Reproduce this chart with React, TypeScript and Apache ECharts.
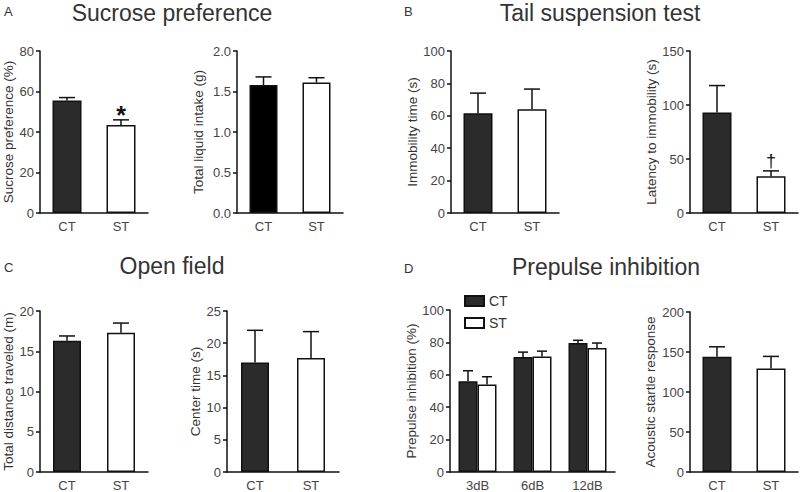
import React, { useEffect, useRef } from "react";
import * as echarts from "echarts";

const groups = ["CT", "ST"];
const sucroseMean = [55.5, 43.5];
const sucroseUpper = [57, 46];
const intakeMean = [1.58, 1.61];
const intakeUpper = [1.68, 1.67];
const immobMean = [61.5, 64];
const immobUpper = [74, 76.5];
const latencyMean = [93, 34];
const latencyUpper = [118, 39];
const distanceMean = [16.3, 17.3];
const distanceUpper = [16.9, 18.5];
const centerMean = [17, 17.7];
const centerUpper = [22, 21.8];
const ppiLevels = ["3dB", "6dB", "12dB"];
const ppiCT = [56, 71, 79.6];
const ppiCTUpper = [62.5, 74, 81.3];
const ppiST = [54, 71.3, 76.5];
const ppiSTUpper = [58.8, 74.6, 79.6];
const startleMean = [144, 129.5];
const startleUpper = [156.5, 144.5];

const sucroseMarks = ["", "*"];
const latencyMarks = ["", "†"];

const FONT = "Liberation Sans, Arial, Helvetica, sans-serif";
const DARK = "#2b2b2b";
const LINE = "#111";
const NAME_SIZE = 13.5;
const TICK_SIZE = 13;

type Panel = {
  left: number;
  top: number;
  width: number;
  height: number;
  max: number;
  interval: number;
  name: string;
  nameGap: number;
  mean: number[];
  upper: number[];
  fills: string[];
  barWidth: number;
  cap: number;
  marks?: string[];
  markSize?: number;
  markShift?: number;
  markBold?: boolean;
  decimals?: number;
};

const panels: Panel[] = [
  { left: 40, top: 51, width: 108, height: 162, max: 80, interval: 20, name: "Sucrose preference (%)", nameGap: 23, mean: sucroseMean, upper: sucroseUpper, fills: [DARK, "#fff"], barWidth: 29, cap: 8, marks: sucroseMarks, markSize: 25, markShift: 8, markBold: true },
  { left: 237, top: 51, width: 106, height: 162, max: 2, interval: 0.5, name: "Total liquid intake (g)", nameGap: 32, mean: intakeMean, upper: intakeUpper, fills: ["#000", "#fff"], barWidth: 28, cap: 8, decimals: 1 },
  { left: 451, top: 51, width: 108, height: 162, max: 100, interval: 20, name: "Immobility time (s)", nameGap: 31, mean: immobMean, upper: immobUpper, fills: [DARK, "#fff"], barWidth: 29, cap: 8 },
  { left: 690, top: 51, width: 108, height: 162, max: 150, interval: 50, name: "Latency to immobility (s)", nameGap: 32, mean: latencyMean, upper: latencyUpper, fills: [DARK, "#fff"], barWidth: 29, cap: 8, marks: latencyMarks, markSize: 18, markShift: -1 },
  { left: 40, top: 311, width: 108, height: 162, max: 20, interval: 5, name: "Total distance traveled (m)", nameGap: 23, mean: distanceMean, upper: distanceUpper, fills: [DARK, "#fff"], barWidth: 28, cap: 8 },
  { left: 227, top: 311, width: 112, height: 162, max: 25, interval: 5, name: "Center time (s)", nameGap: 22, mean: centerMean, upper: centerUpper, fills: [DARK, "#fff"], barWidth: 28, cap: 8 },
  { left: 690, top: 312, width: 108, height: 161, max: 200, interval: 50, name: "Acoustic startle response", nameGap: 33, mean: startleMean, upper: startleUpper, fills: [DARK, "#fff"], barWidth: 29, cap: 8 },
];

const ppiPanel = { left: 450, top: 310, width: 165, height: 163, max: 100, interval: 20, name: "Prepulse inhibition (%)", nameGap: 31, barWidth: 19, cap: 5 };

const axisLine = { show: true, lineStyle: { color: LINE, width: 1.5 } };

function yAxisOf(gridIndex: number, p: { max: number; interval: number; name: string; nameGap: number; decimals?: number }) {
  return {
    type: "value",
    gridIndex,
    min: 0,
    max: p.max,
    interval: p.interval,
    name: p.name,
    nameLocation: "middle",
    nameGap: p.nameGap,
    nameTextStyle: { fontSize: NAME_SIZE, color: "#333", fontFamily: FONT },
    axisLine,
    axisTick: { show: true, length: 4, lineStyle: { color: LINE, width: 1.5 } },
    axisLabel: {
      fontSize: TICK_SIZE,
      color: "#444",
      fontFamily: FONT,
      margin: 6,
      formatter: (v: number) => (p.decimals ? v.toFixed(p.decimals) : String(v)),
    },
    splitLine: { show: false },
  };
}

function xAxisOf(gridIndex: number, cats: string[]) {
  return {
    type: "category",
    gridIndex,
    data: cats,
    axisLine,
    axisTick: { show: false },
    axisLabel: { fontSize: TICK_SIZE, color: "#444", fontFamily: FONT, margin: 7 },
  };
}

function errorSeries(gridIndex: number, mean: number[], upper: number[], cap: number, offset: number, marks?: string[], markSize?: number, markShift?: number, markBold?: boolean) {
  return {
    type: "custom",
    xAxisIndex: gridIndex,
    yAxisIndex: gridIndex,
    z: 5,
    silent: true,
    data: mean.map((m, i) => [i, m, upper[i]]),
    renderItem: (params: any, api: any) => {
      const i = api.value(0);
      const p0 = api.coord([i, api.value(1)]);
      const p1 = api.coord([i, api.value(2)]);
      const x = p0[0] + offset;
      const children: any[] = [
        { type: "line", shape: { x1: x, y1: p0[1], x2: x, y2: p1[1] }, style: { stroke: LINE, lineWidth: 1.5 } },
        { type: "line", shape: { x1: x - cap, y1: p1[1], x2: x + cap, y2: p1[1] }, style: { stroke: LINE, lineWidth: 1.5 } },
      ];
      const mk = marks ? marks[params.dataIndex] : "";
      if (mk) {
        children.push({
          type: "text",
          x,
          y: p1[1] + (markShift || 0),
          style: { text: mk, fontSize: markSize || 16, fontWeight: markBold ? "bold" : "normal", fontFamily: FONT, fill: "#111", align: "center", verticalAlign: "bottom" },
        });
      }
      return { type: "group", children };
    },
  };
}

function buildOption() {
  const grid: any[] = [];
  const xAxis: any[] = [];
  const yAxis: any[] = [];
  const series: any[] = [];

  panels.forEach((p, gi) => {
    grid.push({ left: p.left, top: p.top, width: p.width, height: p.height, containLabel: false });
    xAxis.push(xAxisOf(gi, groups));
    yAxis.push(yAxisOf(gi, p));
    series.push({
      type: "bar",
      name: "panel" + gi,
      xAxisIndex: gi,
      yAxisIndex: gi,
      barWidth: p.barWidth,
      data: p.mean.map((v, i) => ({ value: v, itemStyle: { color: p.fills[i], borderColor: LINE, borderWidth: 1.5 } })),
    });
    series.push(errorSeries(gi, p.mean, p.upper, p.cap, 0, p.marks, p.markSize, p.markShift, p.markBold));
  });

  const gi = panels.length;
  grid.push({ left: ppiPanel.left, top: ppiPanel.top, width: ppiPanel.width, height: ppiPanel.height });
  xAxis.push(xAxisOf(gi, ppiLevels));
  yAxis.push(yAxisOf(gi, ppiPanel));
  series.push({
    type: "bar",
    name: "CT",
    xAxisIndex: gi,
    yAxisIndex: gi,
    barWidth: ppiPanel.barWidth,
    barGap: "0%",
    itemStyle: { color: DARK, borderColor: LINE, borderWidth: 1.5 },
    data: ppiCT,
  });
  series.push({
    type: "bar",
    name: "ST",
    xAxisIndex: gi,
    yAxisIndex: gi,
    barWidth: ppiPanel.barWidth,
    barGap: "0%",
    itemStyle: { color: "#fff", borderColor: LINE, borderWidth: 1.5 },
    data: ppiST,
  });
  series.push(errorSeries(gi, ppiCT, ppiCTUpper, ppiPanel.cap, -ppiPanel.barWidth / 2));
  series.push(errorSeries(gi, ppiST, ppiSTUpper, ppiPanel.cap, ppiPanel.barWidth / 2));

  const titleStyle = { fontSize: 23, fontFamily: FONT, fill: "#333", align: "center", verticalAlign: "middle" };
  const letterStyle = { fontSize: 13, fontFamily: FONT, fill: "#333", align: "left", verticalAlign: "middle" };

  return {
    animation: false,
    backgroundColor: "#fff",
    legend: {
      data: ["CT", "ST"],
      orient: "vertical",
      left: 459,
      top: 289,
      icon: "rect",
      itemWidth: 19,
      itemHeight: 10,
      itemGap: 8,
      selectedMode: false,
      textStyle: { fontSize: 14, color: "#333", fontFamily: FONT },
    },
    grid,
    xAxis,
    yAxis,
    series,
    graphic: [
      { type: "text", left: 4, top: 5, style: { ...letterStyle, text: "A" } },
      { type: "text", x: 172, y: 13, style: { ...titleStyle, text: "Sucrose preference" } },
      { type: "text", left: 404, top: 5, style: { ...letterStyle, text: "B" } },
      { type: "text", x: 600, y: 13, style: { ...titleStyle, text: "Tail suspension test" } },
      { type: "text", left: 4, top: 261, style: { ...letterStyle, text: "C" } },
      { type: "text", x: 172, y: 266, style: { ...titleStyle, text: "Open field" } },
      { type: "text", left: 404, top: 262, style: { ...letterStyle, text: "D" } },
      { type: "text", x: 606, y: 267, style: { ...titleStyle, text: "Prepulse inhibition" } },
    ],
  };
}

export default function App() {
  const ref = useRef<HTMLDivElement>(null);
  useEffect(() => {
    if (!ref.current) return;
    const chart = echarts.init(ref.current, undefined, { renderer: "svg" });
    chart.setOption(buildOption() as any);
    return () => chart.dispose();
  }, []);
  return <div ref={ref} style={{ position: "absolute", left: 0, top: 0, width: 800, height: 492 }} />;
}
